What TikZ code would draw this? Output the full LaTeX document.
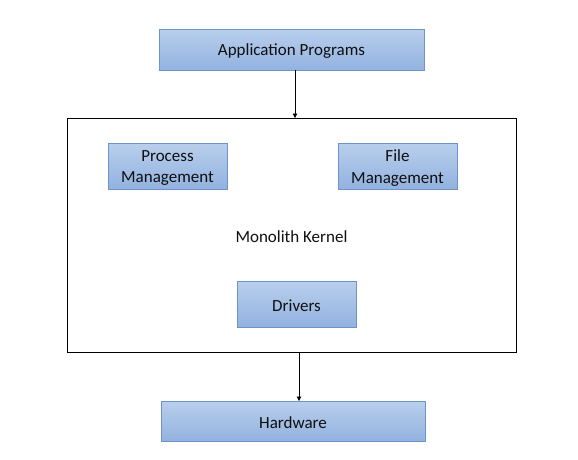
\documentclass[tikz,border=0pt]{standalone}
\usepackage{fontspec}
\setmainfont{Carlito}
\usetikzlibrary{arrows.meta}
\definecolor{boxtop}{RGB}{185,207,236}
\definecolor{boxbot}{RGB}{146,178,224}
\definecolor{boxline}{RGB}{108,148,200}
\definecolor{txt}{RGB}{15,15,15}
\tikzset{
  bluebox/.style={draw=boxline, line width=0.9pt, top color=boxtop, bottom color=boxbot,
    inner sep=0pt},
  boxtext/.style={yshift=-2pt, inner sep=0pt, align=center, text=txt, font=\fontsize{17}{21.5}\selectfont},
  conn/.style={line width=0.8pt, -{Triangle[width=4.5pt,length=4.5pt]}}
}
\begin{document}
\begin{tikzpicture}[x=1pt,y=-1pt]
\useasboundingbox (0,0) rectangle (578,459);
\node[bluebox, minimum width=265, minimum height=41, label={[boxtext]center:Application Programs}] (app) at (291.5,49.5) {};
\node[draw, line width=0.8pt, minimum width=449, minimum height=234, inner sep=0pt] (kernel) at (291.5,235) {};
\node[bluebox, minimum width=119, minimum height=46, label={[boxtext]center:Process\\Management}] (pm) at (167.5,166) {};
\node[bluebox, minimum width=119, minimum height=46, label={[boxtext]center:File\\Management}] (fm) at (397.5,166) {};
\node[text=txt, font=\fontsize{17}{21}\selectfont] (mk) at (291.5,237) {Monolith Kernel};
\node[bluebox, minimum width=119, minimum height=46, label={[boxtext]center:Drivers}] (drv) at (296.5,304) {};
\node[bluebox, minimum width=264, minimum height=40, label={[boxtext]center:Hardware}] (hw) at (293,421) {};
\coordinate (a1) at (295,70);
\coordinate (a2) at (295,118);
\coordinate (b1) at (299,352);
\coordinate (b2) at (299,401);
\draw[conn] (a1) -- (a2);
\draw[conn] (b1) -- (b2);
\end{tikzpicture}
\end{document}
